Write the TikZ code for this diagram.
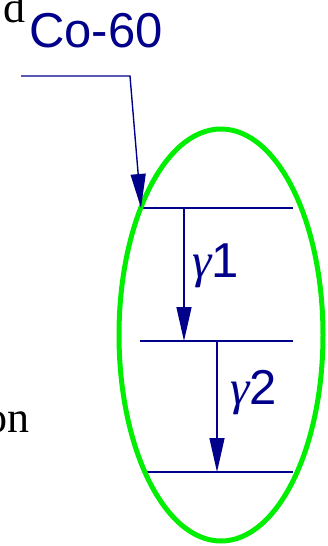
\documentclass[tikz,border=0pt]{standalone}
\usepackage{fontspec}
\setmainfont{Liberation Serif}
\setsansfont{Liberation Sans}
\usetikzlibrary{arrows.meta,shapes.geometric}
\definecolor{navy}{RGB}{0,0,139}
\definecolor{lgreen}{RGB}{0,238,0}
\newcommand{\gam}{{\rmfamily\itshape γ}}
\begin{document}
\begin{tikzpicture}[x=1pt,y=-1pt,
  lvl/.style={navy, line width=1.4pt},
  trans/.style={navy, line width=1.4pt, -{Triangle[length=34pt,width=15pt]}},
  bluelabel/.style={navy, inner sep=0pt, font=\sffamily\fontsize{49}{49}\selectfont},
  serifbit/.style={black, inner sep=0pt, font=\rmfamily\fontsize{44}{44}\selectfont},
  ring/.style={draw=lgreen, line width=5pt, ellipse, inner sep=0pt, minimum width=204pt, minimum height=412pt}]
\useasboundingbox (0,0) rectangle (328,546);
\clip (0,0) rectangle (328,546);
% side text fragments
\node[serifbit, anchor=base east] (d) at (26,22) {d};
\node[serifbit, anchor=base east] (on) at (30,432) {on};
% source label and pointer
\node[bluelabel, anchor=base west] (co) at (29,47) {Co-60};
\coordinate (p0) at (21,76);
\coordinate (p1) at (130,76);
% energy levels
\coordinate (L1a) at (141,208); \coordinate (L1b) at (293,208);
\coordinate (L2a) at (140,341); \coordinate (L2b) at (293,341);
\coordinate (L3a) at (145,472); \coordinate (L3b) at (293,472);
\draw[lvl] (L1a) -- (L1b);
\draw[lvl] (L2a) -- (L2b);
\draw[lvl] (L3a) -- (L3b);
% green ellipse
\node[ring] (ell) at (221,335) {};
% transitions
\coordinate (g1s) at (184,208); \coordinate (g1e) at (184,341);
\coordinate (g2s) at (217,341); \coordinate (g2e) at (217,472);
\draw[trans] (g1s) -- (g1e);
\draw[trans] (g2s) -- (g2e);
\draw[trans] (p0) -- (p1) -- (L1a);
\node[bluelabel, anchor=base west] (gam1) at (192,277) {\gam1};
\node[bluelabel, anchor=base west] (gam2) at (230,404) {\gam2};
\end{tikzpicture}
\end{document}
